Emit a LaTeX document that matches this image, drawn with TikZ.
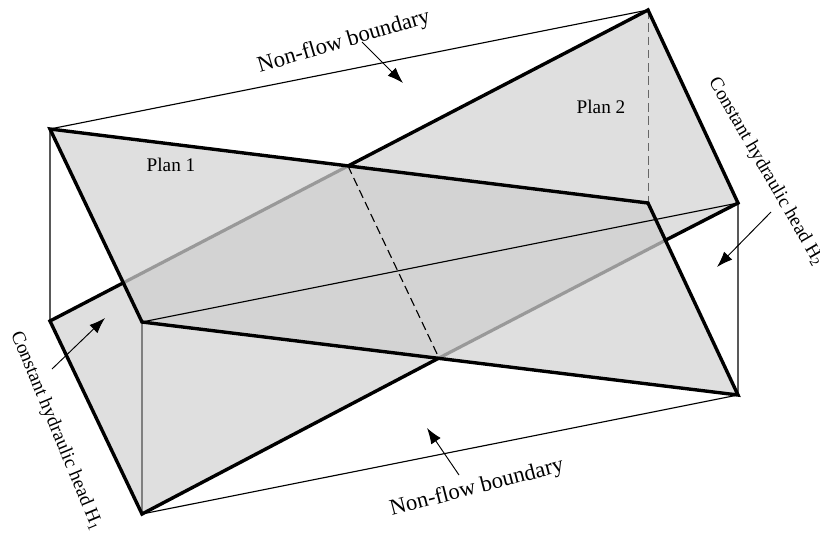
\documentclass[tikz,border=0pt]{standalone}
\usepackage{fontspec}
\setmainfont{Liberation Serif}
\usepackage{xcolor}
\usetikzlibrary{arrows.meta}
\definecolor{planfill}{HTML}{DFDFDF}
\definecolor{overlapfill}{HTML}{D3D3D3}
\tikzset{
  bold edge/.style={line width=0.9mm,black,line join=miter},
  hidden edge/.style={line width=0.85mm,black!40},
  thin edge/.style={line width=0.3mm},
  pointer/.style={line width=0.25mm,-{Latex[length=4.2mm,width=3mm]}},
  label/.style={inner sep=0pt,font=\fontsize{14.5}{16}\selectfont},
  big label/.style={inner sep=0pt,font=\fontsize{17}{19}\selectfont}
}

\begin{document}
\begin{tikzpicture}[x=0.02646cm,y=-0.02646cm]
\useasboundingbox (0,0) rectangle (820,533);
\coordinate (P1a) at (50,129);
\coordinate (P1b) at (648,203);
\coordinate (P1c) at (738,395);
\coordinate (P1d) at (142,322);
\coordinate (P2a) at (50,321);
\coordinate (P2b) at (648,10);
\coordinate (P2c) at (738,203);
\coordinate (P2d) at (142,514);
\coordinate (Xa) at (348,166);
\coordinate (Xb) at (439,358);
\coordinate (Xc) at (123,283);
\coordinate (Xd) at (664,241);

\fill[planfill] (P1a)--(P1b)--(P1c)--(P1d)--cycle;
\fill[planfill] (P2a)--(P2b)--(P2c)--(P2d)--cycle;
\scope
\clip (P1a)--(P1b)--(P1c)--(P1d)--cycle;
\fill[overlapfill] (P2a)--(P2b)--(P2c)--(P2d)--cycle;
\endscope

% box edges
\draw[thin edge] (P2a)--(P1a)--(P2b);
\draw[thin edge] (P2d)--(P1c)--(P2c);
\draw[thin edge] (P1d)--(P2c);
\draw[thin edge,black!50] (P1d)--(P2d);
\draw[line width=0.2mm,black!60,dash pattern=on 6.5pt off 3.5pt] (P2b)--(P1b);
\draw[thin edge,dash pattern=on 6.5pt off 3.5pt] (Xa)--(Xb);

% plan 2 under plan 1
\draw[hidden edge] (Xc)--(Xa);
\draw[hidden edge] (Xb)--(Xd);
\draw[bold edge] (Xa)--(P2b)--(P2c)--(Xd);
\draw[bold edge] (Xc)--(P2a)--(P2d)--(Xb);
\draw[bold edge] (P1a)--(P1b)--(P1c)--(P1d)--cycle;

\node[label] (plan one) at (171,165) {Plan 1};
\node[label] (plan two) at (601,107) {Plan 2};
\node[big label,rotate=16.5] (top label) at (344,42) {Non-flow boundary};
\node[big label,rotate=14.5] (bottom label) at (477,488) {Non-flow boundary};
\node[label,rotate=-67.5] (left label) at (56,431) {Constant hydraulic head H\textsubscript{1}};
\node[label,rotate=-60] (right label) at (766,172) {Constant hydraulic head H\textsubscript{2}};

\coordinate (top tail) at (362,42);
\coordinate (top tip) at (403,83);
\coordinate (bottom tail) at (459,475);
\coordinate (bottom tip) at (427,428);
\coordinate (left tail) at (52,369);
\coordinate (left tip) at (105,318);
\coordinate (right tail) at (771,212);
\coordinate (right tip) at (717,267);
\draw[pointer] (top tail)--(top tip);
\draw[pointer] (bottom tail)--(bottom tip);
\draw[pointer] (left tail)--(left tip);
\draw[pointer] (right tail)--(right tip);
\end{tikzpicture}
\end{document}
